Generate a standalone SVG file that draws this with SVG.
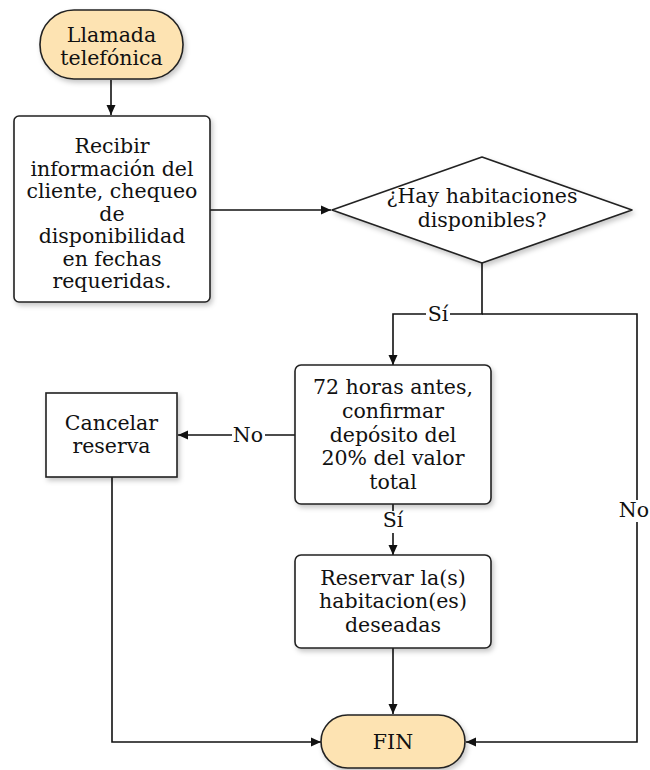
<svg xmlns="http://www.w3.org/2000/svg" width="650" height="770" viewBox="0 0 650 770">
<defs>
<filter id="sh" x="-10%" y="-10%" width="130%" height="130%">
<feDropShadow dx="2" dy="3" stdDeviation="2.5" flood-color="#000" flood-opacity="0.22"/>
</filter>
<marker id="ar" viewBox="0 0 10 10" refX="10" refY="5" markerWidth="10" markerHeight="10" markerUnits="userSpaceOnUse" orient="auto">
<path d="M0,0.5 L10,5 L0,9.5 z" fill="#111"/>
</marker>
<style>
.t{font-family:"DejaVu Serif","Liberation Serif",serif;font-size:20.5px;fill:#111;text-anchor:middle}
.box{fill:#fff;stroke:#222;stroke-width:1.6}
.term{fill:#fde3b2;stroke:#222;stroke-width:1.6}
.c{fill:none;stroke:#111;stroke-width:1.6}
.lb{fill:#fff}
</style>
</defs>
<rect width="650" height="770" fill="#fff"/>
<g id="connectors">
<line class="c" x1="111" y1="80" x2="111" y2="115" marker-end="url(#ar)"/>
<line class="c" x1="210" y1="210" x2="331" y2="210" marker-end="url(#ar)"/>
<polyline class="c" points="482,263 482,314 393,314 393,365" marker-end="url(#ar)"/>
<polyline class="c" points="482,314 637,314 637,742 466,742" marker-end="url(#ar)"/>
<line class="c" x1="295" y1="435" x2="178" y2="435" marker-end="url(#ar)"/>
<line class="c" x1="393" y1="504" x2="393" y2="555" marker-end="url(#ar)"/>
<line class="c" x1="393" y1="648" x2="393" y2="714" marker-end="url(#ar)"/>
<polyline class="c" points="112,477 112,742 321,742" marker-end="url(#ar)"/>
<rect class="lb" x="426" y="304" width="24" height="20"/>
<text class="t" x="438" y="321">Sí</text>
<rect class="lb" x="232" y="425" width="33" height="20"/>
<text class="t" x="248" y="442">No</text>
<rect class="lb" x="381" y="511" width="24" height="22"/>
<text class="t" x="393" y="527">Sí</text>
<rect class="lb" x="621" y="500" width="29" height="22"/>
<text class="t" x="649" y="517" style="text-anchor:end">No</text>
</g>
<g id="start">
<rect class="term" filter="url(#sh)" x="40" y="10" width="143" height="69" rx="34" ry="34"/>
<text class="t" x="111.5" y="42">Llamada</text>
<text class="t" x="111.5" y="65">telefónica</text>
</g>
<g id="recibir">
<rect class="box" filter="url(#sh)" x="14" y="116" width="196" height="186" rx="5"/>
<text class="t" x="112" y="153">Recibir</text>
<text class="t" x="112" y="175.5">información del</text>
<text class="t" x="112" y="198">cliente, chequeo</text>
<text class="t" x="112" y="220.5">de</text>
<text class="t" x="112" y="243">disponibilidad</text>
<text class="t" x="112" y="265.5">en fechas</text>
<text class="t" x="112" y="288">requeridas.</text>
</g>
<g id="decision">
<path class="box" filter="url(#sh)" d="M482,157 L632,210 L482,263 L332,210 z" stroke-linejoin="round"/>
<text class="t" x="482" y="203">¿Hay habitaciones</text>
<text class="t" x="482" y="227">disponibles?</text>
</g>
<g id="deposito">
<rect class="box" filter="url(#sh)" x="295" y="365" width="196" height="139" rx="6"/>
<text class="t" x="393" y="394">72 horas antes,</text>
<text class="t" x="393" y="418">confirmar</text>
<text class="t" x="393" y="442">depósito del</text>
<text class="t" x="393" y="465">20% del valor</text>
<text class="t" x="393" y="489">total</text>
</g>
<g id="cancelar">
<rect class="box" filter="url(#sh)" x="46" y="393" width="131" height="84"/>
<text class="t" x="111.5" y="430">Cancelar</text>
<text class="t" x="111.5" y="453">reserva</text>
</g>
<g id="reservar">
<rect class="box" filter="url(#sh)" x="295" y="555" width="196" height="93" rx="6"/>
<text class="t" x="393" y="585">Reservar la(s)</text>
<text class="t" x="393" y="608">habitacion(es)</text>
<text class="t" x="393" y="632">deseadas</text>
</g>
<g id="fin">
<rect class="term" filter="url(#sh)" x="321" y="715" width="144" height="53" rx="26.5" ry="26.5"/>
<text class="t" x="393" y="749">FIN</text>
</g>
</svg>
